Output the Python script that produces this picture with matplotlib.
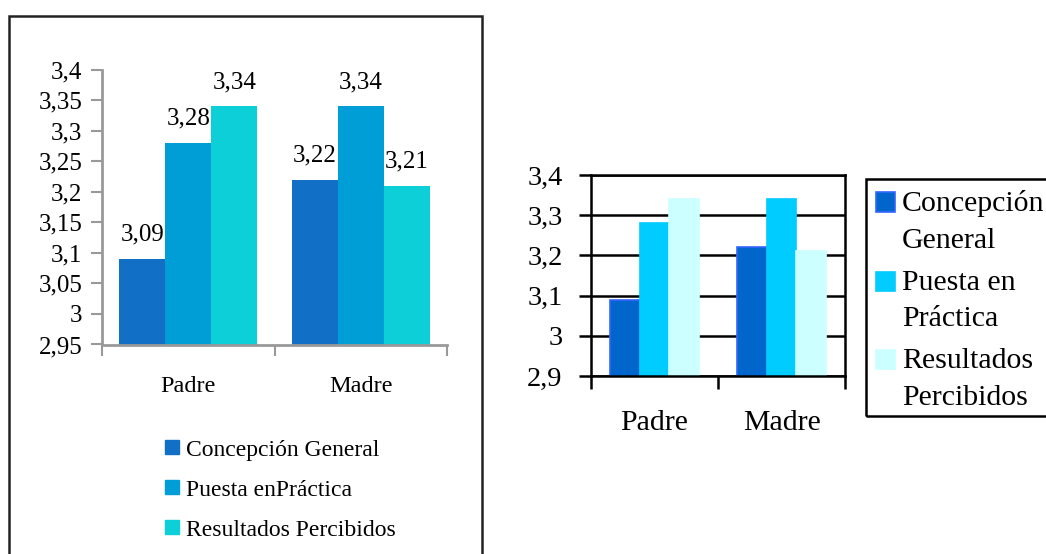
import numpy as np
import matplotlib
matplotlib.use("Agg")
import matplotlib.pyplot as plt
from matplotlib.patches import Rectangle

plt.rcParams['font.family'] = ['Liberation Serif', 'DejaVu Serif']

# data
categories = ['Padre', 'Madre']
series_left = ['Concepción General', 'Puesta enPráctica', 'Resultados Percibidos']
series_right = ['Concepción\nGeneral', 'Puesta en\nPráctica', 'Resultados\nPercibidos']
concepcion = [3.09, 3.22]
puesta = [3.28, 3.34]
resultados = [3.34, 3.21]
value_labels = [['3,09', '3,22'], ['3,28', '3,34'], ['3,34', '3,21']]
yticks_left = [2.95, 3.0, 3.05, 3.1, 3.15, 3.2, 3.25, 3.3, 3.35, 3.4]
yticklabels_left = ['2,95', '3', '3,05', '3,1', '3,15', '3,2', '3,25', '3,3', '3,35', '3,4']
yticks_right = [2.9, 3.0, 3.1, 3.2, 3.3, 3.4]
yticklabels_right = ['2,9', '3', '3,1', '3,2', '3,3', '3,4']

values = [concepcion, puesta, resultados]
colors_left = ['#1170c5', '#009ed7', '#0ccfd8']
colors_right = ['#0066cc', '#00ccff', '#ccffff']
edges_right = ['#3366ff', '#00ccff', '#ccffff']

W, H = 1046, 554
fig = plt.figure(figsize=(W / 100, H / 100), dpi=100)

def px(x0, y0, x1, y1):
    # image pixel box -> figure fraction rect
    return [x0 / W, 1 - y1 / H, (x1 - x0) / W, (y1 - y0) / H]

x = np.arange(len(categories))

# ---------- left chart ----------
ax1 = fig.add_axes(px(102, 69.6, 447, 344.5))
bw = 0.8 / 3
for i in range(3):
    bars = ax1.bar(x - 0.4 + bw * (i + 0.5), values[i], bw, color=colors_left[i], zorder=2)
    for b, lab in zip(bars, value_labels[i]):
        ax1.annotate(lab, (b.get_x() + b.get_width() / 2, b.get_height()),
                     xytext=(0, 13), textcoords='offset points',
                     ha='center', va='baseline', fontsize=18)
ax1.set_ylim(2.95, 3.4)
ax1.set_xlim(-0.5, 1.5)
ax1.set_yticks(yticks_left)
ax1.set_yticklabels(yticklabels_left, fontsize=18)
ax1.set_xticks([-0.5, 0.5, 1.5])
ax1.set_xticklabels([])
ax1.set_xticks(x, minor=True)
ax1.set_xticklabels(categories, minor=True, fontsize=17.5)
ax1.tick_params(axis='x', which='minor', length=0, pad=23)
ax1.tick_params(axis='x', which='major', length=8, width=1.5, color='#999999')
ax1.tick_params(axis='y', length=8, width=1.5, color='#999999', pad=6)
for s in ['top', 'right']:
    ax1.spines[s].set_visible(False)
for s in ['left', 'bottom']:
    ax1.spines[s].set_color('#999999')
    ax1.spines[s].set_linewidth(2)

# frame around left chart
fig.add_artist(Rectangle((9 / W, -0.1), (482 - 9) / W, 1.1 - 16 / H,
                         transform=fig.transFigure, fill=False,
                         ec='#222222', lw=1.8))

# left legend
rows_left = [447, 487, 527]
for i, lab in enumerate(series_left):
    cy = rows_left[i]
    fig.add_artist(Rectangle((165 / W, 1 - (cy + 7) / H), 14 / W, 14 / H,
                             transform=fig.transFigure, color=colors_left[i]))
    fig.text(186 / W, 1 - (cy + 9) / H, lab, fontsize=17, va='baseline', ha='left')

# ---------- right chart ----------
ax2 = fig.add_axes(px(591, 175, 845, 376))
bw2 = 0.693 / 3
for i in range(3):
    ax2.bar(x - 0.3465 + bw2 * (i + 0.5), values[i], bw2, color=colors_right[i],
            edgecolor=edges_right[i], linewidth=1.2, zorder=2)
ax2.set_ylim(2.9, 3.4)
ax2.set_xlim(-0.5, 1.5)
ax2.set_yticks(yticks_right)
ax2.set_yticklabels(yticklabels_right, fontsize=20.5)
ax2.grid(axis='y', color='black', lw=1.8, zorder=0)
ax2.set_axisbelow(True)
ax2.set_xticks([-0.5, 0.5, 1.5])
ax2.set_xticklabels([])
ax2.set_xticks(x, minor=True)
ax2.set_xticklabels(categories, minor=True, fontsize=21.5)
ax2.tick_params(axis='x', which='minor', length=0, pad=24.5)
ax2.tick_params(axis='x', which='major', length=9, width=1.8, color='black')
ax2.tick_params(axis='y', length=9, width=1.8, color='black', pad=11.5)
for s in ax2.spines.values():
    s.set_color('black')
    s.set_linewidth(1.8)

# right legend
fig.add_artist(Rectangle((866 / W, 1 - 416 / H), 300 / W, (416 - 179) / H,
                         transform=fig.transFigure, fill=False, ec='black', lw=1.8,
                         clip_on=False))
rows_right = [202, 281, 359.5]
for i, lab in enumerate(series_right):
    cy = rows_right[i]
    fig.add_artist(Rectangle((876 / W, 1 - (cy + 9.5) / H), 19 / W, 19 / H,
                             transform=fig.transFigure, fc=colors_right[i],
                             ec=edges_right[i], lw=1.2))
    for k, line in enumerate(lab.split('\n')):
        fig.text(902 / W, 1 - (cy + 8.5 + 37 * k) / H, line, fontsize=21.5,
                 va='baseline', ha='left')

fig.savefig('out.png', dpi=100)
